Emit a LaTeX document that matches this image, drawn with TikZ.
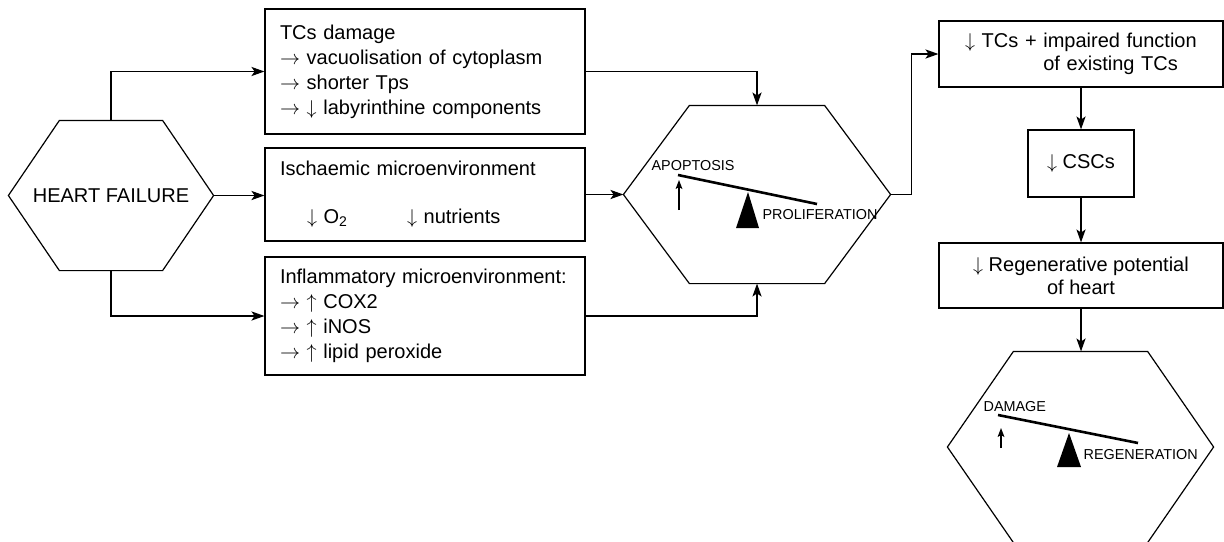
\documentclass[tikz,border=0pt]{standalone}
\usepackage{fontspec}
\setmainfont{Liberation Sans}
\usetikzlibrary{arrows.meta,calc}
\newcommand{\hexframe}[2]{%
        \draw (#1.west) -- ($(#1.north west)+(#2,0)$) -- ($(#1.north east)-(#2,0)$)
        -- (#1.east) -- ($(#1.south east)-(#2,0)$) -- ($(#1.south west)+(#2,0)$) -- cycle;}

\begin{document}
\begin{tikzpicture}[x=0.5pt,y=-0.5pt,line width=0.6pt,
        font=\fontsize{10}{12.5}\selectfont,
        box/.style={draw,inner ysep=0pt,align=left},
        hexnode/.style={inner sep=0pt},
        arr/.style={-{Stealth[length=6.5pt,width=4.6pt,inset=1.6pt]}},
        uparr/.style={-{Stealth[length=4.5pt,width=3.4pt,inset=1pt]}},
        lbl/.style={font=\fontsize{7.2}{8}\selectfont,inner sep=0pt,anchor=west}]
        \useasboundingbox (0,0) rectangle (1224,541);

        \node[hexnode,minimum width=102pt,minimum height=74.5pt] (hf) at (111,195.5) {HEART FAILURE};
        \hexframe{hf}{51}

        \node[box,text width=145pt,inner xsep=7.5pt,minimum height=62.5pt] (tcd) at (425,71.5)
        {TCs damage\\ $\rightarrow$ vacuolisation of cytoplasm\\ $\rightarrow$ shorter Tps\\ $\rightarrow$ $\downarrow$ labyrinthine components};
        \node[box,text width=145pt,inner xsep=7.5pt,minimum height=46.5pt] (isc) at (425,194.5)
        {Ischaemic microenvironment\\[11.5pt]\hspace*{13.5pt}\makebox[50pt][l]{$\downarrow$ O\textsubscript{2}}$\downarrow$ nutrients};
        \node[box,text width=145pt,inner xsep=7.5pt,minimum height=59pt] (inf) at (425,316)
        {Inflammatory microenvironment:\\ $\rightarrow$ $\uparrow$ COX2\\ $\rightarrow$ $\uparrow$ iNOS\\ $\rightarrow$ $\uparrow$ lipid peroxide};

        \node[hexnode,minimum width=133pt,minimum height=88.5pt] (ap) at (757,194.5) {};
        \hexframe{ap}{66}
        \draw[line width=1.3pt] (678,175) -- (817,204);
        \fill (748,192) -- (759,228) -- (736,228) -- cycle;
        \draw[uparr] (679,210) -- (679,180);
        \node[lbl] (apo) at (651,166) {APOPTOSIS};
        \node[lbl] (pro) at (762,215) {PROLIFERATION};

        \node[box,text width=116pt,inner xsep=13pt,minimum height=33pt,font=\fontsize{10}{11.5}\selectfont] (tcs) at (1081,54)
        {$\downarrow$ TCs + impaired function\\ \phantom{$\downarrow$ TCs + }of existing TCs};
        \node[box,align=center,minimum width=53pt,minimum height=33.5pt] (csc) at (1081,163.5) {$\downarrow$ CSCs};
        \node[box,align=center,minimum width=142pt,minimum height=32.5pt,font=\fontsize{10}{11.5}\selectfont] (reg) at (1081,275.5)
        {$\downarrow$ Regenerative potential\\ of heart};

        \node[hexnode,minimum width=132.5pt,minimum height=95pt] (dr) at (1080.5,447) {};
        \hexframe{dr}{66}
        \draw[line width=1.3pt] (998,415) -- (1138,443);
        \fill (1069,433) -- (1081,467) -- (1057,467) -- cycle;
        \draw[uparr] (1001,448) -- (1001,428);
        \node[lbl] (dam) at (983,407) {DAMAGE};
        \node[lbl] (rgn) at (1083,455) {REGENERATION};

        \draw[arr] (hf.north) |- (tcd.west);
        \draw[arr] (hf.east) -- (hf.east -| isc.west);
        \draw[arr] (hf.south) |- (inf.west);
        \draw[arr] (tcd.east) -| (ap.north);
        \draw[arr] (isc.east) -- (ap.west);
        \draw[arr] (inf.east) -| (ap.south);
        \draw[arr] (ap.east) -- ++(21,0) |- (tcs.west);
        \draw[arr] (tcs.south) -- (csc.north);
        \draw[arr] (csc.south) -- (reg.north);
        \draw[arr] (reg.south) -- (reg.south |- dr.north);
\end{tikzpicture}
\end{document}
